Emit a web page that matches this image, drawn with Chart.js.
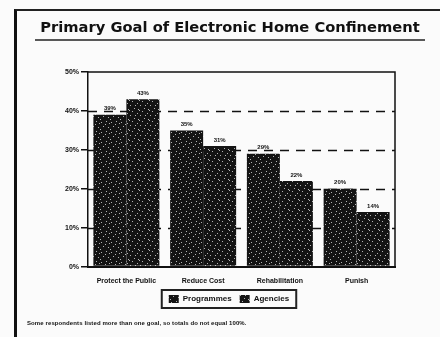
<!DOCTYPE html>
<html>
<head>
<meta charset="utf-8">
<script src="https://cdn.jsdelivr.net/npm/chart.js@4"></script>
<style>
  body { margin: 0; background: #fbfbfb; }
  #wrap { position: relative; width: 440px; height: 337px; overflow: hidden; }
  #frame { position: absolute; left: 14px; top: 9px; width: 426px; height: 330px;
           border-left: 3px solid #111; border-top: 2px solid #222; }
  #title { position: absolute; left: 0; width: 460px; top: 18px; text-align: center;
           font: bold 14.7px "DejaVu Sans", sans-serif; color: #111; white-space: nowrap; }
  #note { position: absolute; left: 27px; top: 320px; font: bold 6px "Liberation Sans", Arial, sans-serif;
          color: #111; letter-spacing: 0.1px; }
  canvas { position: absolute; left: 0; top: 0; }
</style>
</head>
<body>
<div id="wrap">
  <div id="frame"></div>
  <canvas id="goalChart" width="440" height="337"></canvas>
  <div id="title">Primary Goal of Electronic Home Confinement</div>
  <div id="note">Some respondents listed more than one goal, so totals do not equal 100%.</div>
</div>
<script>
// Data
const goals = ["Protect the Public", "Reduce Cost", "Rehabilitation", "Punish"];
const programmes = [39, 35, 29, 20];
const agencies = [43, 31, 22, 14];
const yTicks = [0, 10, 20, 30, 40, 50];

// Speckled dark fill like the photocopy
function speckle(dots) {
  const c = document.createElement("canvas");
  c.width = 10; c.height = 10;
  const g = c.getContext("2d");
  g.fillStyle = "#141414";
  g.fillRect(0, 0, 10, 10);
  g.fillStyle = "#b5b5b5";
  dots.forEach(d => g.fillRect(d[0], d[1], 1, 1));
  const ctx = document.getElementById("goalChart").getContext("2d");
  return ctx.createPattern(c, "repeat");
}
const fillA = speckle([[1, 2], [6, 1], [3, 6], [8, 7], [5, 4], [0, 9], [9, 3]]);
const fillB = speckle([[2, 1], [7, 3], [4, 8], [0, 5], [8, 9], [5, 5], [9, 0]]);

// Dashed grid, box around the plot, title rule, value labels
const decor = {
  id: "decor",
  beforeDatasetsDraw(chart) {
    const { ctx, chartArea: a, scales: { y } } = chart;
    ctx.save();
    ctx.strokeStyle = "#111";
    ctx.lineWidth = 1.5;
    ctx.setLineDash([9, 7]);
    [10, 20, 30, 40].forEach(v => {
      const py = Math.round(y.getPixelForValue(v)) + 0.5;
      ctx.beginPath(); ctx.moveTo(a.left, py); ctx.lineTo(a.right, py); ctx.stroke();
    });
    ctx.setLineDash([]);
    ctx.beginPath();
    ctx.moveTo(a.left, a.top); ctx.lineTo(a.right, a.top); ctx.lineTo(a.right, a.bottom);
    ctx.stroke();
    ctx.restore();
  },
  afterDatasetsDraw(chart) {
    const { ctx } = chart;
    ctx.save();
    ctx.fillStyle = "#111";
    ctx.font = "bold 6px 'Liberation Sans', Arial, sans-serif";
    ctx.textAlign = "center";
    ctx.textBaseline = "bottom";
    chart.data.datasets.forEach((ds, i) => {
      chart.getDatasetMeta(i).data.forEach((bar, j) => {
        ctx.fillText(ds.data[j] + "%", bar.x, bar.y - 3);
      });
    });
    // rule under the title
    ctx.strokeStyle = "#222";
    ctx.lineWidth = 1.5;
    ctx.beginPath(); ctx.moveTo(35, 40); ctx.lineTo(425, 40); ctx.stroke();
    // box around the legend items only
    const hb = chart.legend.legendHitBoxes;
    const x0 = Math.min(...hb.map(h => h.left)) - 7;
    const x1 = Math.max(...hb.map(h => h.left + h.width)) + 7;
    const y0 = Math.min(...hb.map(h => h.top)) - 5;
    const y1 = Math.max(...hb.map(h => h.top + h.height)) + 5;
    ctx.lineWidth = 2;
    ctx.strokeRect(x0, y0, x1 - x0, y1 - y0);
    ctx.restore();
  }
};

new Chart(document.getElementById("goalChart"), {
  type: "bar",
  data: {
    labels: goals,
    datasets: [{
      label: "Programmes",
      data: programmes,
      backgroundColor: fillA,
      borderWidth: 0
    }, {
      label: "Agencies",
      data: agencies,
      backgroundColor: fillB,
      borderWidth: 0
    }]
  },
  options: {
    responsive: false,
    animation: false,
    layout: { padding: { top: 72, left: 63, right: 45, bottom: 24 } },
    datasets: { bar: { categoryPercentage: 0.86, barPercentage: 1 } },
    scales: {
      x: {
        grid: { display: false },
        border: { color: "#111", width: 2 },
        ticks: { color: "#111", font: { family: "Liberation Sans", size: 7, weight: "bold" }, padding: 2, maxRotation: 0 }
      },
      y: {
        min: 0, max: 50,
        afterBuildTicks(scale) { scale.ticks = yTicks.map(v => ({ value: v })); },
        grid: { drawOnChartArea: false, drawTicks: true, tickLength: 7, color: "#111", lineWidth: 1.5 },
        border: { color: "#111", width: 1.5 },
        ticks: { color: "#111", font: { family: "Liberation Sans", size: 7, weight: "bold" }, padding: 2,
                 callback: v => v + "%" }
      }
    },
    plugins: {
      title: { display: false },
      legend: {
        position: "bottom",
        labels: { color: "#111", boxWidth: 10, boxHeight: 8, padding: 8,
                  font: { family: "Liberation Sans", size: 8, weight: "bold" } }
      },
      tooltip: { enabled: false }
    }
  },
  plugins: [decor]
});
</script>
</body>
</html>
